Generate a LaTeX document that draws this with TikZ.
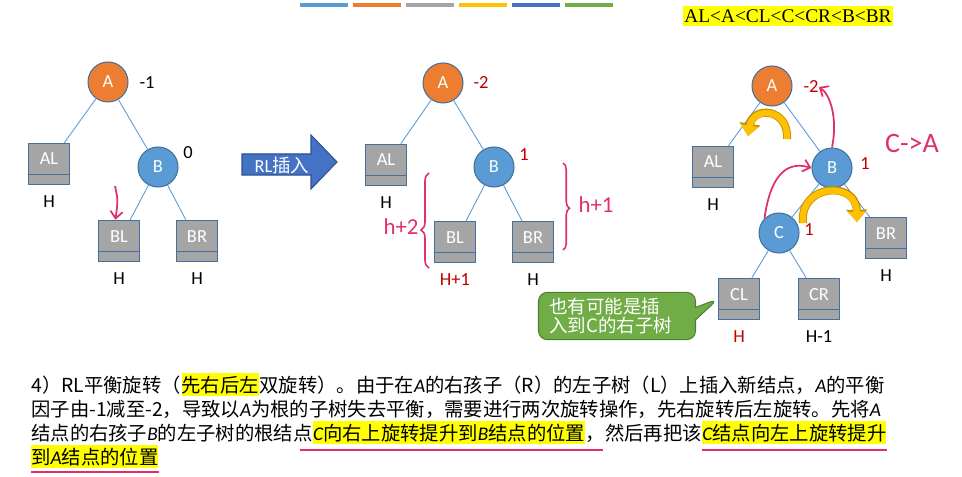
\documentclass[tikz,border=0pt]{standalone}
\usepackage{fontspec}
\setmainfont{Carlito}
\newfontfamily\cjk{Noto Sans CJK SC}
\newfontfamily\serifa{Liberation Serif}
\usetikzlibrary{arrows.meta,positioning,calc,decorations.pathreplacing,shapes.callouts}
\definecolor{Orange}{HTML}{ED7D31}
\definecolor{Sky}{HTML}{5B9BD5}
\definecolor{Edge}{HTML}{41719C}
\definecolor{Slate}{HTML}{A5A5A5}
\definecolor{Gold}{HTML}{FFC000}
\definecolor{GoldD}{HTML}{BF9000}
\definecolor{Royal}{HTML}{4472C4}
\definecolor{RoyalD}{HTML}{2F528F}
\definecolor{Leaf}{HTML}{70AD47}
\definecolor{LeafD}{HTML}{507E32}
\definecolor{Ink}{HTML}{E0306A}
\definecolor{Crimson}{HTML}{C00000}
\definecolor{Marker}{HTML}{FFFF00}
\newcommand\iv[1]{{\normalfont\itshape #1}}

\begin{document}
\begin{tikzpicture}[x=0.02cm,y=-0.02cm,node distance=0.2cm,
        nd/.style={circle,draw=Edge,line width=0.6pt,minimum size=0.8cm,inner sep=0pt,text=white,font=\fontsize{10.5}{12}\selectfont},
        ra/.style={nd,fill=Orange},
        rb/.style={nd,fill=Sky},
        sub/.style={draw=Edge,fill=Slate,line width=0.6pt,minimum width=0.82cm,minimum height=0.83cm,inner sep=0pt,
          text=white,text height=0.25cm,text depth=0.21cm,font=\fontsize{10.5}{12}\selectfont,
          path picture={\draw[Edge,line width=0.6pt] ([yshift=0.2cm]path picture bounding box.south west)--([yshift=0.2cm]path picture bounding box.south east);}},
        ln/.style={draw=Sky,line width=0.5pt},
        lb/.style={inner sep=0pt,font=\fontsize{10.5}{12}\selectfont},
        bf/.style={lb},
        rd/.style={lb,text=Crimson},
        pk/.style={draw=Ink,line width=1pt,-{Straight Barb[length=4pt,width=7pt]}},
        hw/.style={inner sep=0pt,text=Ink,font=\fontsize{13}{14}\selectfont},
        rot/.style={line width=3.6pt,draw=Gold,-{Triangle[width=10pt,length=6pt]},
          preaction={draw=GoldD,line width=4.6pt,-{Triangle[width=11.5pt,length=7pt]}}},
        txt/.style={inner sep=0pt,anchor=base west,font=\cjk\fontsize{11}{13}\selectfont},
        mk/.style={txt,fill=Marker,inner ysep=1.5pt},
        ul/.style={draw=Ink,line width=0.8pt}]
        \useasboundingbox (0,0) rectangle (962,476);
        \foreach \c [count=\i] in {Sky,Orange,Slate,Gold,Royal,Leaf}
          \fill[\c] ({300+53*(\i-1)},3) rectangle +(48,4);
        \node[fill=Marker,inner xsep=1pt,inner ysep=2pt,font=\serifa\fontsize{11}{12}\selectfont] (ord) at (788,16) {AL<A<CL<C<CR<B<BR};

        \node[ra] (a1) at (108,82) {A};
        \node[sub] (al1) at (49,164) {AL};
        \node[rb] (b1) at (158,167) {B};
        \node[sub] (bl1) at (119,241) {BL};
        \node[sub] (br1) at (197,241) {BR};
        \draw[ln] (a1)--(al1); \draw[ln] (a1)--(b1); \draw[ln] (b1)--(bl1); \draw[ln] (b1)--(br1);
        \node[bf] (fa1) at (147,83) {-1};
        \node[bf] (fb1) at (188,153) {0};
        \node[lb,below=of al1] (hal1) {H};
        \node[lb,below=of bl1] (hbl1) {H};
        \node[lb,below=of br1] (hbr1) {H};
        \coordinate (ins1) at (115,186);
        \draw[pk] (ins1) .. controls (118,200) .. ([xshift=-2pt]bl1.north);

        \draw[fill=Royal,draw=RoyalD,line width=0.6pt] (242,154)--(311,154)--(311,135)--(337,162)--(311,189)--(311,175)--(242,175)--cycle;
        \node[text=white,inner sep=0pt,font=\fontsize{10.5}{12}\selectfont] (ins) at (282,165) {RL{\cjk 插入}};

        \node[ra] (a2) at (443,83) {A};
        \node[sub] (al2) at (386,165) {AL};
        \node[rb] (b2) at (494,167) {B};
        \node[sub] (bl2) at (455,242) {BL};
        \node[sub] (br2) at (533,242) {BR};
        \draw[ln] (a2)--(al2); \draw[ln] (a2)--(b2); \draw[ln] (b2)--(bl2); \draw[ln] (b2)--(br2);
        \node[rd] (fa2) at (481,83) {-2};
        \node[rd] (fb2) at (524,155) {1};
        \node[lb,below=of al2] (hal2) {H};
        \node[rd,below=of bl2] (hbl2) {H+1};
        \node[lb,below=of br2] (hbr2) {H};
        \draw[draw=Ink,line width=0.9pt,decorate,decoration={brace,amplitude=0.16cm,aspect=0.4}] (429,268)--(429,173);
        \draw[draw=Ink,line width=0.9pt,decorate,decoration={brace,amplitude=0.13cm,aspect=0.52}] (563,163)--(563,250);
        \node[hw] (h2) at (401,227) {h+2};
        \node[hw] (h1) at (596,205) {h+1};

        \node[ra] (a3) at (772,86) {A};
        \node[sub] (al3) at (713,167) {AL};
        \node[rb] (b3) at (832,168) {B};
        \node[rb] (c3) at (779,233) {C};
        \node[sub] (br3) at (886,238) {BR};
        \node[sub] (cl3) at (739,299) {CL};
        \node[sub] (cr3) at (819,299) {CR};
        \draw[ln] (a3)--(al3); \draw[ln] (a3)--(b3); \draw[ln] (b3)--(c3); \draw[ln] (b3)--(br3);
        \draw[ln] (c3)--(cl3); \draw[ln] (c3)--(cr3);
        \node[rd] (fa3) at (811,87) {-2};
        \node[rd] (fb3) at (865,164) {1};
        \node[rd] (fc3) at (809,230) {1};
        \node[lb,below=of al3] (hal3) {H};
        \node[lb,below=of br3] (hbr3) {H};
        \node[rd,below=of cl3] (hcl3) {H};
        \node[lb,below=of cr3] (hcr3) {H-1};
        \draw[rot] (787,139) .. controls (789,108) and (753,106) .. (748,136);
        \draw[rot] (803,223) .. controls (799,184) and (856,180) .. (857,222);
        \draw[pk] (c3.north west) .. controls (770,178) and (785,160) .. (b3.west);
        \draw[pk] (b3.north) .. controls (838,118) and (830,94) .. (fa3.east);
        \node[hw,font=\fontsize{16}{18}\selectfont] (ca) at (912,143) {C->A};
        \node[rectangle callout,fill=Leaf,draw=LeafD,line width=0.6pt,rounded corners=5pt,text=white,align=left,
          text width=2.7cm,inner xsep=0.22cm,minimum height=0.86cm,font=\cjk\fontsize{10.5}{10.5}\selectfont,
          callout absolute pointer={(cl3.west)}] (tip) at (617,316) {也有可能是插\\入到C的右子树};

        \node[txt] (t1a) at (31,392) {4）RL平衡旋转（};
        \node[mk] (t1b) at (t1a.base east) {先右后左};
        \node[txt] (t1c) at (t1b.base east) {双旋转）。由于在\iv{A}的右孩子（R）的左子树（L）上插入新结点，\iv{A}的平衡};
        \node[txt] (t2) at (31,416) {因子由-1减至-2，导致以\iv{A}为根的子树失去平衡，需要进行两次旋转操作，先右旋转后左旋转。先将\iv{A}};
        \node[txt] (t3a) at (31,440) {结点的右孩子\iv{B}的左子树的根结点};
        \node[mk] (t3b) at (t3a.base east) {\iv{C}向右上旋转提升到\iv{B}结点的位置};
        \node[txt] (t3c) at (t3b.base east) {，然后再把该};
        \node[mk] (t3d) at (t3c.base east) {\iv{C}结点向左上旋转提升};
        \node[mk] (t4) at (31,464) {到\iv{A}结点的位置};
        \draw[ul] ([xshift=-7pt,yshift=-3pt]t3b.south west)--([xshift=10pt,yshift=-3pt]t3b.south east);
        \draw[ul] ([yshift=-3pt]t3d.south west)--([yshift=-3pt]t3d.south east);
        \draw[ul] ([yshift=-2pt]t4.south west)--([yshift=-2pt]t4.south east);
      \end{tikzpicture}
\end{document}
